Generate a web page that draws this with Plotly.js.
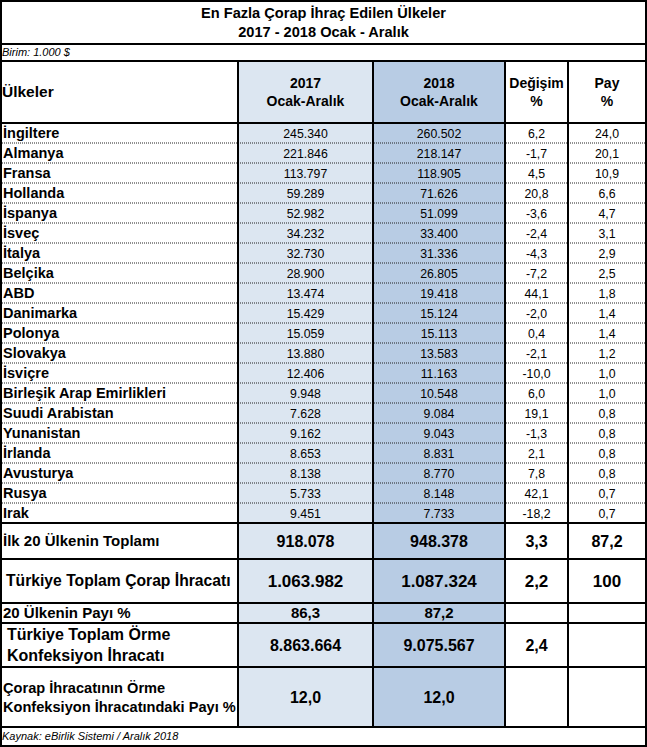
<!DOCTYPE html>
<html>
<head>
<meta charset="utf-8">
<script src="https://cdn.plot.ly/plotly-3.0.1.min.js"></script>
<style>html,body{margin:0;padding:0;background:#fff;}</style>
</head>
<body>
<div id="chart" style="width:647px;height:747px;"></div>
<script>
// ---------- DATA ----------
const titleLines = ["En Fazla Çorap İhraç Edilen Ülkeler", "2017 - 2018 Ocak - Aralık"];
const unitNote = "Birim: 1.000 $";
const sourceNote = "Kaynak: eBirlik Sistemi / Aralık 2018";
const headerLabels = ["Ülkeler", "2017<br>Ocak-Aralık", "2018<br>Ocak-Aralık", "Değişim<br>%", "Pay<br>%"];

const countries = ["İngiltere", "Almanya", "Fransa", "Hollanda", "İspanya", "İsveç", "İtalya", "Belçika", "ABD",
  "Danimarka", "Polonya", "Slovakya", "İsviçre", "Birleşik Arap Emirlikleri", "Suudi Arabistan", "Yunanistan",
  "İrlanda", "Avusturya", "Rusya", "Irak"];
const exports2017 = [245340, 221846, 113797, 59289, 52982, 34232, 32730, 28900, 13474, 15429, 15059, 13880, 12406,
  9948, 7628, 9162, 8653, 8138, 5733, 9451];
const exports2018 = [260502, 218147, 118905, 71626, 51099, 33400, 31336, 26805, 19418, 15124, 15113, 13583, 11163,
  10548, 9084, 9043, 8831, 8770, 8148, 7733];
const changePct = [6.2, -1.7, 4.5, 20.8, -3.6, -2.4, -4.3, -7.2, 44.1, -2.0, 0.4, -2.1, -10.0, 6.0, 19.1, -1.3,
  2.1, 7.8, 42.1, -18.2];
const sharePct = [24.0, 20.1, 10.9, 6.6, 4.7, 3.1, 2.9, 2.5, 1.8, 1.4, 1.4, 1.2, 1.0, 1.0, 0.8, 0.8, 0.8, 0.8, 0.7, 0.7];

const summaryLabels = ["İlk 20 Ülkenin Toplamı", "Türkiye Toplam Çorap İhracatı", "20 Ülkenin Payı %",
  "Türkiye Toplam Örme<br>Konfeksiyon İhracatı", "Çorap İhracatının Örme<br>Konfeksiyon İhracatındaki Payı %"];
const summaryIsPercent = [false, false, true, false, true];
const summary2017 = [918078, 1063982, 86.3, 8863664, 12.0];
const summary2018 = [948378, 1087324, 87.2, 9075567, 12.0];
const summaryChange = [3.3, 2.2, null, 2.4, null];
const summaryShare = [87.2, 100, null, null, null];

// ---------- LAYOUT CONSTANTS ----------
const W = 647, H = 747;
const colEdges = [0, 238, 373, 505, 568, 646];
const colCenter = i => (colEdges[i] + colEdges[i + 1]) / 2;
const titleBottom = 44, unitBottom = 61, headerBottom = 123, dataRowH = 20;
const dataBottom = headerBottom + dataRowH * countries.length;   // 523
const summaryEdges = [dataBottom, 559, 603, 623, 667, 727];
const tableBottom = 746;
const FONT = "Liberation Sans, Arial, sans-serif";
const fill2017 = "#dce6f1", fill2018 = "#b8cce4";
const textDy = 1.5;
const leftPad = 3;

// ---------- FORMATTERS ----------
function fmtInt(v) {
  return Math.round(v).toString().replace(/\B(?=(\d{3})+(?!\d))/g, ".");
}
function fmtDec(v) { return v.toFixed(1).replace(".", ","); }
function fmtSummary(v, pct) {
  if (v === null) return "";
  return pct ? fmtDec(v) : fmtInt(v);
}

// ---------- TRACES ----------
const traces = [];
function textTrace(xs, ys, texts, pos, size, color) {
  traces.push({
    type: "scatter", mode: "text", x: xs, y: ys.map(y => y + textDy), text: texts,
    textposition: pos, hoverinfo: "skip", showlegend: false,
    textfont: { family: FONT, size: size, color: color || "#000" }
  });
}
const bold = s => "<b>" + s + "</b>";
const ital = s => "<i>" + s + "</i>";

// title
textTrace([W / 2, W / 2], [12.5, 31.5], titleLines.map(bold), "middle center", 14.6);
// unit
textTrace([leftPad - 1], [(titleBottom + unitBottom) / 2 - 1], [ital(unitNote)], "middle right", 11);
// header
const headY = (unitBottom + headerBottom) / 2;
textTrace([leftPad - 1], [headY], [bold(headerLabels[0])], "middle right", 15.5);
textTrace([1, 2, 3, 4].map(colCenter), [1, 2, 3, 4].map(() => headY), headerLabels.slice(1).map(bold), "middle center", 14);

// data rows
const rowY = countries.map((_, i) => headerBottom + dataRowH * i + dataRowH / 2);
textTrace(countries.map(() => leftPad), rowY, countries.map(bold), "middle right", 14.5);
textTrace(countries.map(() => colCenter(1)), rowY, exports2017.map(fmtInt), "middle center", 12.3);
textTrace(countries.map(() => colCenter(2)), rowY, exports2018.map(fmtInt), "middle center", 12.3);
textTrace(countries.map(() => colCenter(3)), rowY, changePct.map(fmtDec), "middle center", 12.3);
textTrace(countries.map(() => colCenter(4)), rowY, sharePct.map(fmtDec), "middle center", 12.3);

// summary rows
const sumY = summaryLabels.map((_, i) => (summaryEdges[i] + summaryEdges[i + 1]) / 2);
const sumLabelSize = [15, 15.7, 15, 16, 14.6];
const sumLabelX = [leftPad, leftPad + 3, leftPad, leftPad + 4, leftPad];
summaryLabels.forEach((lab, i) => {
  textTrace([sumLabelX[i]], [sumY[i]], [bold(lab)], "middle right", sumLabelSize[i]);
});
const sumValSize = [16, 17, 15, 16, 16];
summaryLabels.forEach((_, i) => {
  const vals = [fmtSummary(summary2017[i], summaryIsPercent[i]), fmtSummary(summary2018[i], summaryIsPercent[i]),
    summaryChange[i] === null ? "" : fmtDec(summaryChange[i]),
    summaryShare[i] === null ? "" : (Number.isInteger(summaryShare[i]) && summaryShare[i] >= 100 ? String(summaryShare[i]) : fmtDec(summaryShare[i]))];
  textTrace([1, 2, 3, 4].map(colCenter), [1, 2, 3, 4].map(() => sumY[i]), vals.map(v => v ? bold(v) : ""), "middle center", sumValSize[i]);
});
// source
textTrace([leftPad - 1], [(summaryEdges[5] + tableBottom) / 2 - 1], [ital(sourceNote)], "middle right", 11);

// ---------- SHAPES ----------
const shapes = [];
shapes.push({ type: "rect", layer: "below", x0: colEdges[1], x1: colEdges[2], y0: unitBottom, y1: summaryEdges[5], fillcolor: fill2017, line: { width: 0 } });
shapes.push({ type: "rect", layer: "below", x0: colEdges[2], x1: colEdges[3], y0: unitBottom, y1: summaryEdges[5], fillcolor: fill2018, line: { width: 0 } });
// dotted row separators
for (let i = 1; i < countries.length; i++) {
  const y = headerBottom + dataRowH * i;
  shapes.push({ type: "line", x0: 0, x1: W, y0: y, y1: y, line: { color: "#222", width: 1, dash: "1px,1px" } });
}
// solid horizontals
[titleBottom, unitBottom, headerBottom].concat(summaryEdges).forEach(y => {
  shapes.push({ type: "line", x0: 0, x1: W, y0: y, y1: y, line: { color: "#000", width: 2 } });
});
// verticals
colEdges.slice(1, 5).forEach(x => {
  shapes.push({ type: "line", x0: x, x1: x, y0: unitBottom, y1: summaryEdges[5], line: { color: "#000", width: 2 } });
});
// outer border
shapes.push({ type: "rect", x0: 1, x1: W - 1, y0: 1, y1: tableBottom, line: { color: "#000", width: 2 } });

const layout = {
  width: W, height: H,
  margin: { l: 0, r: 0, t: 0, b: 0, pad: 0 },
  paper_bgcolor: "#fff", plot_bgcolor: "#fff",
  xaxis: { range: [0, W], visible: false, fixedrange: true },
  yaxis: { range: [H, 0], visible: false, fixedrange: true },
  shapes: shapes, showlegend: false, hovermode: false
};
Plotly.newPlot("chart", traces, layout, { staticPlot: true, displayModeBar: false });
</script>
</body>
</html>
